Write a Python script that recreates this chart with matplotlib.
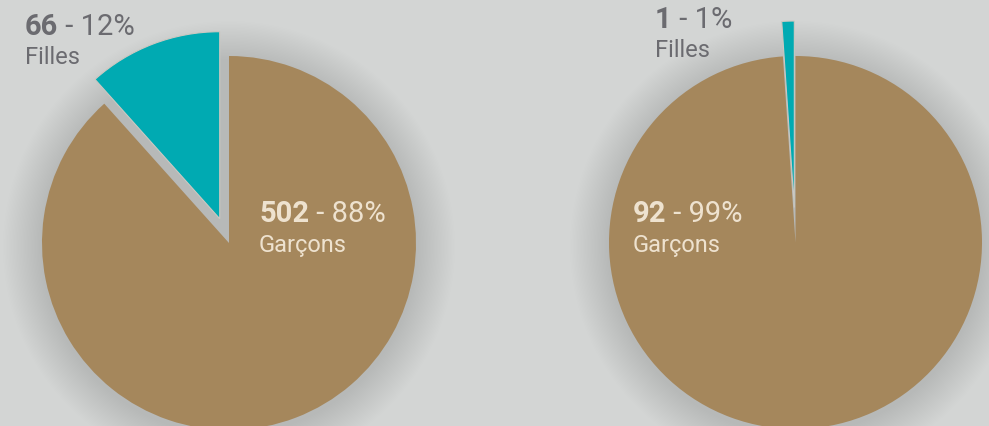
import matplotlib
matplotlib.use("Agg")
import matplotlib.pyplot as plt
from matplotlib.patches import Circle

categories = ["Filles", "Garçons"]
left_values = [66, 502]
right_values = [1, 92]

BG = "#d3d5d4"
BROWN = "#a5875c"
TEAL = "#00aab2"
DARK = "#6b6b70"
CREAM = "#eee2cf"
SHADOW = "#8f7b68"

W, H = 989, 427
fig = plt.figure(figsize=(W / 100, H / 100), dpi=100, facecolor=BG)
ax = fig.add_axes([0, 0, 1, 1])
ax.set_facecolor(BG)

def Y(y):
    return H - y

def draw_pie(values, cx, cy, r, explode_px):
    # soft warm shadow
    for i in range(28):
        ax.add_patch(Circle((cx, Y(cy) - 4), r + 1 + i * 1.4, color=SHADOW,
                            alpha=0.0065, lw=0, zorder=0))
    wedges, _ = ax.pie(values, colors=[TEAL, BROWN], startangle=90,
                       counterclock=True, explode=[explode_px, 0],
                       center=(cx, Y(cy)), radius=r, frame=True,
                       wedgeprops=dict(linewidth=0))
    wedges[0].set_zorder(3)
    wedges[0].set_edgecolor("#cdc8c1")
    wedges[0].set_linewidth(0.8)
    wedges[1].set_zorder(2)
    return wedges

draw_pie(left_values, 229, 244, 187, 26)
draw_pie(right_values, 795.5, 243.5, 186.5, 35)

ax.set_xlim(0, W)
ax.set_ylim(0, H)
ax.set_aspect("equal")
ax.axis("off")

renderer = fig.canvas.get_renderer()
FONT = "Roboto"

def label(x, base1, base2, value, total, name, color):
    pct = f"{round(100 * value / total)}%"
    t1 = ax.text(x, Y(base1), f"{value}", fontsize=21, fontweight="bold",
                 family=FONT, color=color, va="baseline", ha="left", zorder=5)
    bb = t1.get_window_extent(renderer)
    ax.text(bb.x1, Y(base1), f" - {pct}", fontsize=21, family=FONT,
            color=color, va="baseline", ha="left", zorder=5)
    ax.text(x, Y(base2), name, fontsize=17, family=FONT, color=color,
            va="baseline", ha="left", zorder=5)

lt = sum(left_values)
rt = sum(right_values)
label(25, 35, 64, left_values[0], lt, categories[0], DARK)
label(259, 222, 252, left_values[1], lt, categories[1], CREAM)
label(655, 28, 57, right_values[0], rt, categories[0], DARK)
label(633, 222, 252, right_values[1], rt, categories[1], CREAM)

fig.savefig("out.png", dpi=100, facecolor=BG)
